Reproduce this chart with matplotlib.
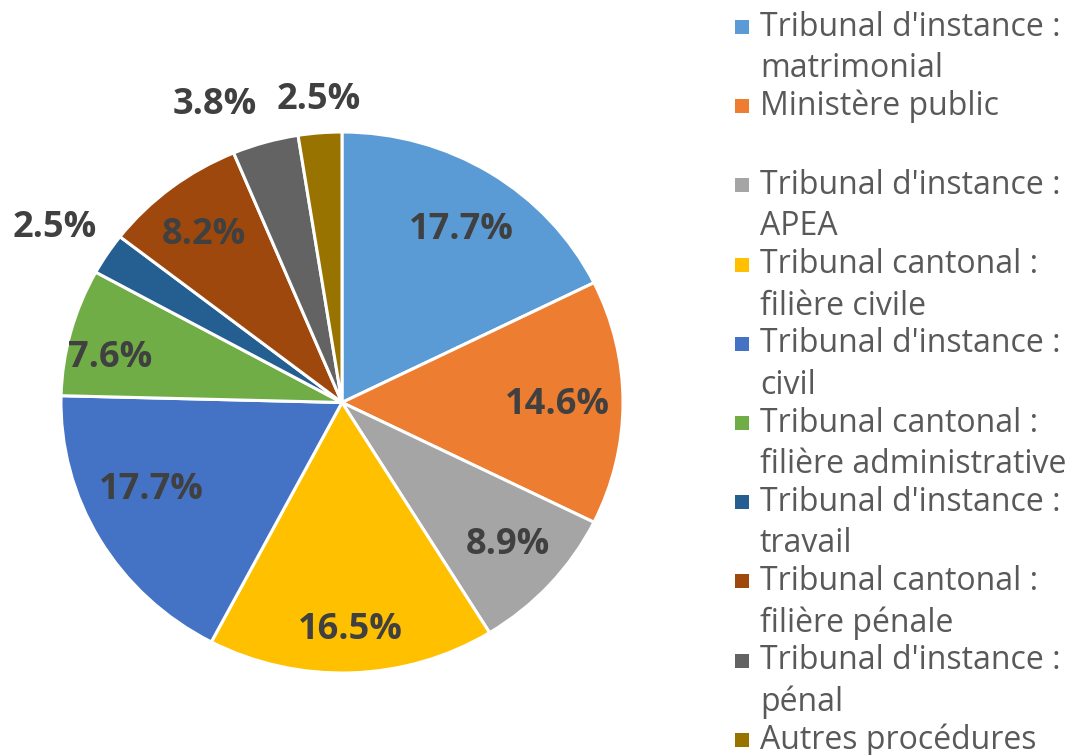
import numpy as np
import matplotlib.pyplot as plt
from matplotlib.patches import Rectangle

plt.rcParams['font.family'] = ['Open Sans', 'DejaVu Sans']

labels = ["Tribunal d'instance :\nmatrimonial",
          "Ministère public",
          "Tribunal d'instance :\nAPEA",
          "Tribunal cantonal :\nfilière civile",
          "Tribunal d'instance :\ncivil",
          "Tribunal cantonal :\nfilière administrative",
          "Tribunal d'instance :\ntravail",
          "Tribunal cantonal :\nfilière pénale",
          "Tribunal d'instance :\npénal",
          "Autres procédures"]
values = [17.7, 14.6, 8.9, 16.5, 17.7, 7.6, 2.5, 8.2, 3.8, 2.5]
colors = ['#5B9BD5', '#ED7D31', '#A5A5A5', '#FFC000', '#4472C4',
          '#70AD47', '#255E91', '#9E480E', '#636363', '#997300']

# label placement (best-fit look): distance from centre and angle shift in degrees
lab_dist = [0.766, 0.765, 0.79, 0.84, 0.75, 0.84, 1.21, 0.79, 1.19, 1.12]
lab_shift = [-1.7, -0.7, 0.6, 0, -4.9, 3.8, 1.1, 0.9, 6.5, -0.2]

fig = plt.figure(figsize=(10.77, 7.55), dpi=100)
# the original pie is slightly squashed vertically
ax = fig.add_axes([61 / 1077, 82 / 755, 562 / 1077, 541 / 755])

wedges, _ = ax.pie(values, colors=colors, startangle=90, counterclock=False,
                   radius=1, wedgeprops=dict(edgecolor='white', linewidth=2.2))
ax.set_xlim(-1, 1)
ax.set_ylim(-1, 1)
ax.set_aspect('auto')
ax.axis('off')

for i, w in enumerate(wedges):
    ang = np.deg2rad((w.theta1 + w.theta2) / 2 + lab_shift[i])
    d = lab_dist[i]
    ax.text(d * np.cos(ang), d * np.sin(ang), f"{values[i]:.1f}%",
            ha='center', va='center', fontsize=26, fontweight='bold',
            color='#404040', clip_on=False)

# legend on the right
y0 = 27
step = 79.2
for i, lab in enumerate(labels):
    y = y0 + i * step
    fig.patches.append(Rectangle((735 / 1077, 1 - (y + 7) / 755), 14 / 1077, 14 / 755,
                                 transform=fig.transFigure, facecolor=colors[i],
                                 edgecolor='none'))
    for j, line in enumerate(lab.split("\n")):
        fig.text(760 / 1077, 1 - (y + j * 41.5) / 755, line, ha='left', va='center',
                 fontsize=23, color='#595959')

fig.savefig('out.png', dpi=100)
